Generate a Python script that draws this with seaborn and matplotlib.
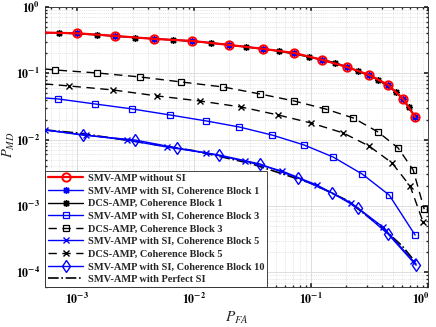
import matplotlib
matplotlib.use("Agg")
import matplotlib.pyplot as plt
import matplotlib.ticker as mticker
from matplotlib.transforms import ScaledTranslation
import numpy as np
import seaborn as sns

# === data ===
x_nosi = [5.3e-4, 1.0e-3, 2.11e-3, 4.55e-3, 9.6e-3, 0.0199, 0.0389, 0.0716, 0.124, 0.203, 0.313, 0.455, 0.611, 0.774]
y_nosi = [0.41, 0.40, 0.365, 0.329, 0.307, 0.267, 0.233, 0.202, 0.159, 0.124, 0.0942, 0.0667, 0.041, 0.0219]

x_dcs1 = [5.3e-4, 7.0e-4, 1.48e-3, 3.13e-3, 6.62e-3, 0.0140, 0.0278, 0.0532, 0.0961, 0.160, 0.252, 0.374, 0.533, 0.688, 0.774]
y_dcs1 = [0.41, 0.405, 0.378, 0.344, 0.318, 0.286, 0.249, 0.215, 0.176, 0.145, 0.108, 0.0792, 0.0522, 0.031, 0.0219]

x_dcs3 = [5.3e-4, 6.49e-4, 1.48e-3, 3.45e-3, 7.75e-3, 0.0177, 0.0367, 0.0716, 0.132, 0.229, 0.374, 0.555, 0.745, 0.925]
y_dcs3 = [0.116, 0.112, 0.101, 0.0879, 0.0739, 0.0621, 0.0487, 0.0382, 0.029, 0.0212, 0.0130, 0.00746, 0.00348, 0.000898]

x_dcs5 = [5.3e-4, 8.55e-4, 2.03e-3, 4.83e-3, 0.0112, 0.0252, 0.0522, 0.1, 0.188, 0.313, 0.492, 0.701, 0.906]
y_dcs5 = [0.069, 0.0643, 0.056, 0.0455, 0.0382, 0.031, 0.0235, 0.0178, 0.0126, 0.0080, 0.00444, 0.0020, 0.000571]

x_si3 = [5.3e-4, 6.88e-4, 1.43e-3, 2.95e-3, 6.23e-3, 0.0127, 0.0243, 0.0465, 0.0871, 0.154, 0.273, 0.465, 0.774]
y_si3 = [0.0424, 0.041, 0.0344, 0.029, 0.0235, 0.0191, 0.0155, 0.0117, 0.0083, 0.00547, 0.00303, 0.00146, 0.000364]

x_si5 = [5.3e-4, 1.19e-3, 2.67e-3, 5.87e-3, 0.0127, 0.0273, 0.0565, 0.112, 0.220, 0.412, 0.745]
y_si5 = [0.0140, 0.0117, 0.00986, 0.00773, 0.00628, 0.00475, 0.00336, 0.00207, 0.00111, 0.00048, 0.000148]

x_si10 = [5.3e-4, 1.12e-3, 3.13e-3, 7.16e-3, 0.0164, 0.0367, 0.0774, 0.151, 0.252, 0.455, 0.789]
y_si10 = [0.0140, 0.0117, 0.00986, 0.00746, 0.00586, 0.00429, 0.00264, 0.00157, 0.00093, 0.000377, 0.000128]

x_perf = [5.3e-4, 1e-3, 3e-3, 1e-2, 3e-2, 0.1, 0.2, 0.4, 0.6, 0.79]
y_perf = [0.0140, 0.0126, 0.0095, 0.0068, 0.0044, 0.0022, 0.00123, 0.00048, 0.00025, 0.000138]

labels = [
    "SMV-AMP without SI",
    "SMV-AMP with SI, Coherence Block 1",
    "DCS-AMP, Coherence Block 1",
    "SMV-AMP with SI, Coherence Block 3",
    "DCS-AMP, Coherence Block 3",
    "SMV-AMP with SI, Coherence Block 5",
    "DCS-AMP, Coherence Block 5",
    "SMV-AMP with SI, Coherence Block 10",
    "SMV-AMP with Perfect SI",
]

# === plot ===
sns.set_theme(style="ticks")
plt.rcParams["font.family"] = ["Liberation Serif", "DejaVu Serif"]
plt.rcParams["mathtext.fontset"] = "stix"

fig = plt.figure(figsize=(4.36, 3.27), dpi=100)
ax = fig.add_axes([0.103, 0.122, 0.879, 0.857])
ax.set_xscale("log")
ax.set_yscale("log")

blue = "#0000ff"
skip0 = slice(1, None)
asterisk = (8, 2, 0)

sns.lineplot(x=x_nosi, y=y_nosi, sort=False, ax=ax, color="red", lw=1.6, marker="o", ms=6,
             mfc="none", mec="red", mew=1.4, markevery=skip0, label=labels[0], zorder=4)
sns.lineplot(x=x_nosi, y=y_nosi, sort=False, ax=ax, color=blue, lw=1.0, marker=asterisk, ms=5,
             mec=blue, mew=1.0, markevery=skip0, label=labels[1], zorder=3)
sns.lineplot(x=x_dcs1, y=y_dcs1, sort=False, ax=ax, color="black", lw=1.0, marker=asterisk, ms=5,
             mec="black", mew=1.0, markevery=slice(1, -1), label=labels[2], zorder=2)
sns.lineplot(x=x_si3, y=y_si3, sort=False, ax=ax, color=blue, lw=1.0, marker="s", ms=5,
             mfc="none", mec=blue, mew=0.9, markevery=skip0, label=labels[3])
sns.lineplot(x=x_dcs3, y=y_dcs3, sort=False, ax=ax, color="black", lw=1.0, ls=(0, (6, 4)), marker="s", ms=5,
             mfc="none", mec="black", mew=0.9, markevery=skip0, label=labels[4])
sns.lineplot(x=x_si5, y=y_si5, sort=False, ax=ax, color=blue, lw=1.0, marker="x", ms=5,
             mec=blue, mew=1.0, label=labels[5], zorder=3)
sns.lineplot(x=x_dcs5, y=y_dcs5, sort=False, ax=ax, color="black", lw=1.0, ls=(0, (6, 4)), marker="x", ms=5,
             mec="black", mew=1.0, markevery=skip0, label=labels[6])
sns.lineplot(x=x_si10, y=y_si10, sort=False, ax=ax, color=blue, lw=1.0, marker="d", ms=6.5,
             mfc="none", mec=blue, mew=1.0, markevery=skip0, label=labels[7], zorder=3)
sns.lineplot(x=x_perf, y=y_perf, sort=False, ax=ax, color="black", lw=1.2, ls="-.",
             label=labels[8], zorder=2.5)

ax.set_xlim(5.3e-4, 1)
ax.set_ylim(6e-5, 1)


def bold_pow(v, pos):
    e = int(round(np.log10(v)))
    return r"$\mathbf{10^{%d}}$" % e


ax.xaxis.set_major_locator(mticker.LogLocator(base=10, numticks=10))
ax.yaxis.set_major_locator(mticker.LogLocator(base=10, numticks=10))
ax.xaxis.set_major_formatter(mticker.FuncFormatter(bold_pow))
ax.yaxis.set_major_formatter(mticker.FuncFormatter(bold_pow))

ax.grid(True, which="major", color="#d9d9d9", lw=0.6, ls="-")
ax.grid(True, which="minor", color="#d0d0d0", lw=0.5, ls=":")
ax.tick_params(which="both", direction="in", top=True, right=True, colors="#262626",
               labelcolor="black")
ax.tick_params(which="major", length=3, labelsize=8.5)
ax.tick_params(which="minor", length=1.5)
for s in ax.spines.values():
    s.set_color("#262626")
    s.set_linewidth(0.6)

ax.set_xlabel(r"$P_{FA}$", fontsize=11, labelpad=2)
ax.set_ylabel(r"$P_{MD}$", fontsize=10.5)
ax.yaxis.set_label_coords(-0.072, 0.51)

leg = ax.legend(loc="lower left", bbox_to_anchor=(0, 0), borderaxespad=0, fancybox=False,
                framealpha=1, edgecolor="#262626", handlelength=3.4,
                labelspacing=0.32, borderpad=0.3, handletextpad=0.4,
                prop={"weight": "bold", "size": 7.5})
leg.get_frame().set_linewidth(0.6)

# keep the 10^0 label inside the canvas
fig.canvas.draw()
for t in ax.xaxis.get_major_ticks():
    if np.isclose(t.get_loc(), 1.0):
        t.label1.set_transform(t.label1.get_transform()
                               + ScaledTranslation(-5 / 72, 0, fig.dpi_scale_trans))

fig.savefig("out.png", dpi=100)
